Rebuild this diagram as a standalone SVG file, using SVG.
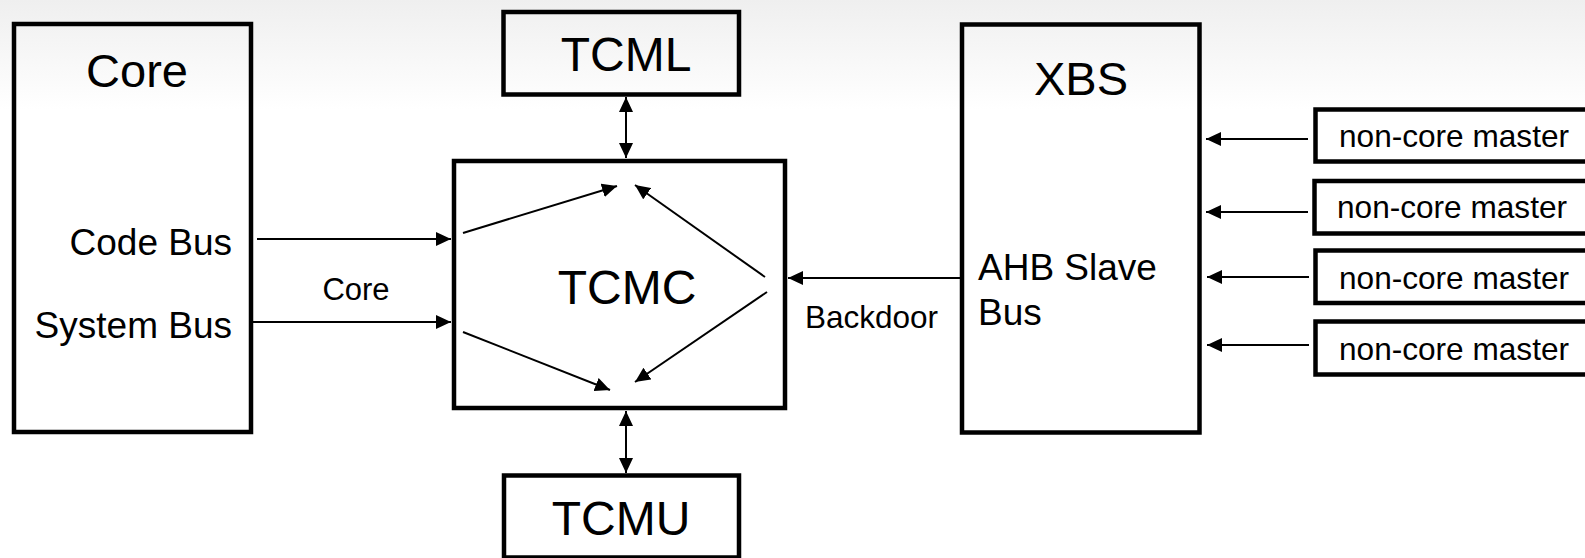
<svg xmlns="http://www.w3.org/2000/svg" width="1585" height="558" viewBox="0 0 1585 558">
<style>
.box{fill:none;stroke:#000;stroke-width:4.5}
.t{font-family:"Liberation Sans",Arial,sans-serif;fill:#000}
.big{font-size:48px;text-anchor:middle}
.mid{font-size:37px}
.sm{font-size:31.6px}
.c{stroke:#000;stroke-width:2;fill:none;marker-end:url(#ah)}
.bi{marker-start:url(#ah)}
</style>
<defs>
<linearGradient id="bg" x1="0" y1="0" x2="0" y2="1">
<stop offset="0" stop-color="#efefef"/>
<stop offset="1" stop-color="#ffffff"/>
</linearGradient>
<marker id="ah" markerUnits="userSpaceOnUse" markerWidth="16" markerHeight="14" refX="15" refY="7" orient="auto-start-reverse" viewBox="0 0 16 14">
<path d="M0,0 L15,7 L0,14 z" fill="#000"/>
</marker>
</defs>
<rect x="0" y="0" width="1585" height="558" fill="#fff"/>
<rect x="0" y="0" width="1585" height="110" fill="url(#bg)"/>

<g id="core">
<rect class="box" x="14" y="24" width="237" height="408"/>
<text class="t big" x="137" y="87" style="font-size:47px">Core</text>
<text class="t mid" x="232" y="255" text-anchor="end">Code Bus</text>
<text class="t mid" x="232" y="338" text-anchor="end">System Bus</text>
</g>

<g id="tcml">
<rect class="box" x="503.5" y="12" width="235.5" height="82.5"/>
<text class="t big" x="626" y="71">TCML</text>
</g>

<g id="tcmc">
<rect class="box" x="454" y="161" width="331" height="247"/>
<text class="t big" x="627" y="304">TCMC</text>
</g>

<g id="tcmu">
<rect class="box" x="504" y="475.5" width="235" height="82"/>
<text class="t big" x="621" y="535">TCMU</text>
</g>

<g id="xbs">
<rect class="box" x="962" y="24.5" width="237.5" height="408"/>
<text class="t big" x="1081" y="95" style="font-size:47px">XBS</text>
<text class="t" x="978" y="280" style="font-size:37px">AHB Slave</text>
<text class="t" x="978" y="325" style="font-size:37px">Bus</text>
</g>

<g id="ncm1">
<rect class="box" x="1315.5" y="109.5" width="300" height="52"/>
<text class="t sm" x="1339" y="147">non-core master</text>
</g>
<g id="ncm2">
<rect class="box" x="1314.5" y="181" width="300" height="52.5"/>
<text class="t sm" x="1337" y="218">non-core master</text>
</g>
<g id="ncm3">
<rect class="box" x="1315.5" y="250.5" width="300" height="52.5"/>
<text class="t sm" x="1339" y="289">non-core master</text>
</g>
<g id="ncm4">
<rect class="box" x="1315.5" y="321.5" width="300" height="53"/>
<text class="t sm" x="1339" y="360">non-core master</text>
</g>

<g id="connectors">
<line class="c" x1="257" y1="239" x2="451" y2="239"/>
<line class="c" x1="253" y1="322" x2="451" y2="322"/>
<text class="t" x="356" y="300" text-anchor="middle" style="font-size:31px">Core</text>
<line class="c" x1="960" y1="278" x2="788" y2="278"/>
<text class="t" x="805" y="328" style="font-size:31.5px">Backdoor</text>
<line class="c bi" x1="626" y1="97" x2="626" y2="158"/>
<line class="c bi" x1="626" y1="411" x2="626" y2="473"/>
<line class="c" x1="463" y1="233" x2="617" y2="186"/>
<line class="c" x1="765" y1="277" x2="635" y2="185"/>
<line class="c" x1="463" y1="332" x2="610" y2="390"/>
<line class="c" x1="767" y1="292" x2="635" y2="382"/>
<line class="c" x1="1308" y1="139" x2="1206" y2="139"/>
<line class="c" x1="1308" y1="212" x2="1206" y2="212"/>
<line class="c" x1="1309" y1="277" x2="1207" y2="277"/>
<line class="c" x1="1309" y1="345" x2="1207" y2="345"/>
</g>
</svg>
